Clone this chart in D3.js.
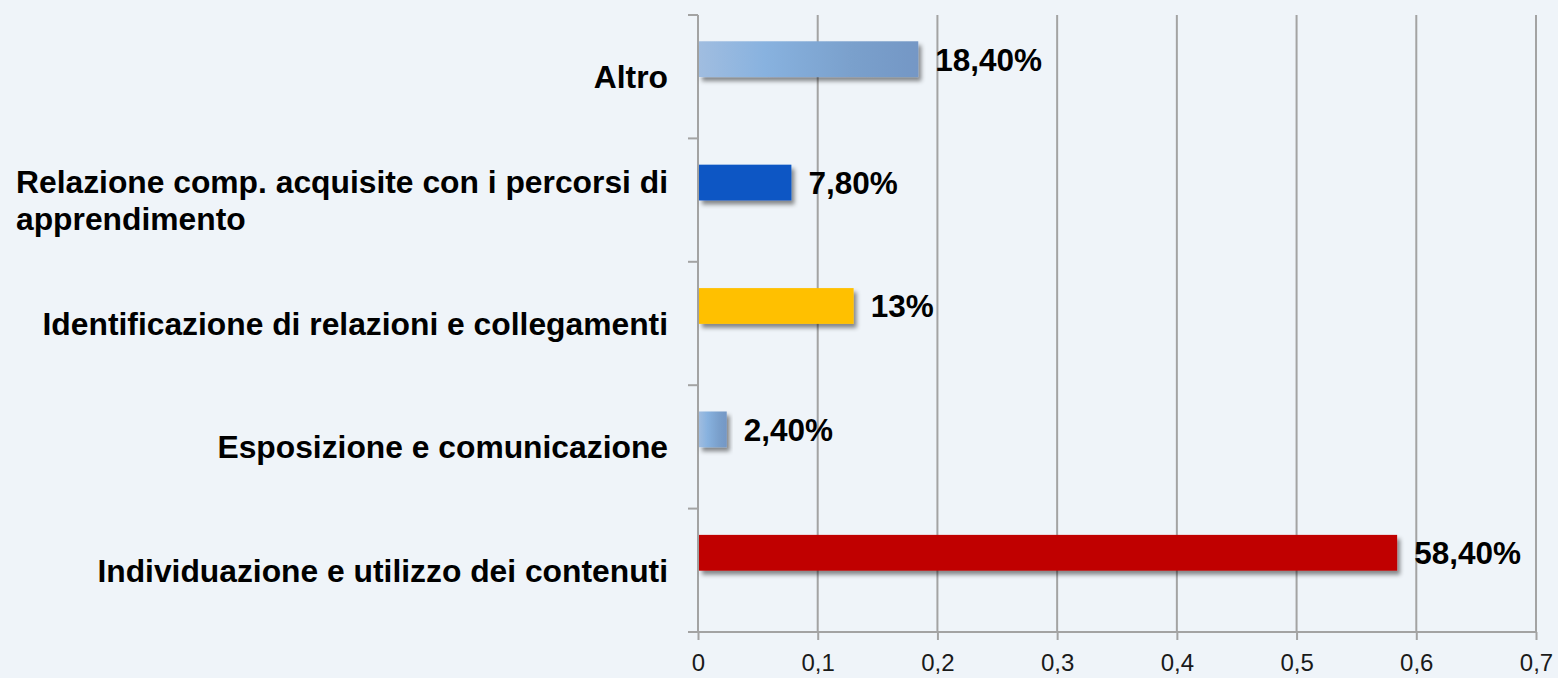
<!DOCTYPE html>
<html>
<head>
<meta charset="utf-8">
<script src="https://cdn.jsdelivr.net/npm/d3@7"></script>
<style>
  html, body { margin: 0; padding: 0; background: #eff4f9; }
  svg { display: block; }
</style>
</head>
<body>
<svg id="chart" width="1558" height="678"></svg>
<script>
// ---- data (top to bottom as drawn) ----
const categories = [
  "Altro",
  "Relazione comp. acquisite con i percorsi di apprendimento",
  "Identificazione di relazioni e collegamenti",
  "Esposizione e comunicazione",
  "Individuazione e utilizzo dei contenuti"
];
const values = [0.184, 0.078, 0.13, 0.024, 0.584];
const valueLabels = ["18,40%", "7,80%", "13%", "2,40%", "58,40%"];
const tickValues = [0, 0.1, 0.2, 0.3, 0.4, 0.5, 0.6, 0.7];
const tickLabels = ["0", "0,1", "0,2", "0,3", "0,4", "0,5", "0,6", "0,7"];
const barFills = ["url(#gradLight)", "#1157c4", "#ffc000", "url(#gradLight)", "#c00000"];

const W = 1558, H = 678;
const margin = { top: 15, right: 22, bottom: 46, left: 698 };
const svg = d3.select("#chart");

const defs = svg.append("defs");
const g1 = defs.append("linearGradient").attr("id", "gradLight")
  .attr("x1", "0%").attr("x2", "100%").attr("y1", "0%").attr("y2", "0%");
g1.append("stop").attr("offset", "0%").attr("stop-color", "#a0bde0");
g1.append("stop").attr("offset", "30%").attr("stop-color", "#88b2df");
g1.append("stop").attr("offset", "70%").attr("stop-color", "#7aa0cc");
g1.append("stop").attr("offset", "100%").attr("stop-color", "#7497c5");
const f = defs.append("filter").attr("id", "shadow")
  .attr("x", "-10%").attr("y", "-30%").attr("width", "130%").attr("height", "180%");
f.append("feDropShadow").attr("dx", 3).attr("dy", 4).attr("stdDeviation", 2.2)
  .attr("flood-color", "#000").attr("flood-opacity", 0.45);

const x = d3.scaleLinear().domain([0, 0.7]).range([margin.left, W - margin.right]);
const y = d3.scaleBand().domain(categories).range([margin.top, H - margin.bottom]).padding(0);
const bw = y.bandwidth();
const gridColor = "#a3a3a3";

// gridlines
svg.append("g").selectAll("line").data(tickValues.slice(1)).join("line")
  .attr("x1", d => x(d)).attr("x2", d => x(d))
  .attr("y1", margin.top).attr("y2", H - margin.bottom)
  .attr("stroke", gridColor).attr("stroke-width", 2);

// x axis
const xAxis = d3.axisBottom(x).tickValues(tickValues)
  .tickFormat((d, i) => tickLabels[i]).tickSize(8).tickSizeOuter(0).tickPadding(14);
const gx = svg.append("g").attr("transform", `translate(0,${H - margin.bottom})`).call(xAxis);
gx.select(".domain").remove();
gx.append("line").attr("x1", margin.left - 10).attr("x2", x(0.7))
  .attr("stroke", gridColor).attr("stroke-width", 2);
gx.selectAll(".tick line").attr("stroke", gridColor).attr("stroke-width", 2);
gx.selectAll(".tick text").attr("fill", "#1a1a1a")
  .style("font-family", "'Liberation Sans', Arial, sans-serif").style("font-size", "24px");

// y axis line + ticks at band boundaries
svg.append("line").attr("x1", margin.left).attr("x2", margin.left)
  .attr("y1", margin.top).attr("y2", H - margin.bottom)
  .attr("stroke", gridColor).attr("stroke-width", 2);
const bounds = categories.map(c => y(c)).concat([H - margin.bottom]);
svg.append("g").selectAll("line").data(bounds).join("line")
  .attr("x1", margin.left - 10).attr("x2", margin.left)
  .attr("y1", d => d).attr("y2", d => d)
  .attr("stroke", gridColor).attr("stroke-width", 2);

// bars
svg.append("g").selectAll("rect").data(categories).join("rect")
  .attr("x", x(0) + 1)
  .attr("y", d => y(d) + bw * 0.213)
  .attr("height", bw * 0.29)
  .attr("width", (d, i) => x(values[i]) - x(0) - 1)
  .attr("fill", (d, i) => barFills[i])
  .attr("filter", "url(#shadow)");

// value labels
svg.append("g").selectAll("text").data(categories).join("text")
  .attr("x", (d, i) => x(values[i]) + 17)
  .attr("y", d => y(d) + bw * 0.213 + bw * 0.145)
  .attr("dy", "0.36em")
  .text((d, i) => valueLabels[i])
  .attr("fill", "#000")
  .style("font-family", "'Liberation Sans', Arial, sans-serif")
  .style("font-weight", "bold").style("font-size", "31.5px");

// category labels (wrapped)
const labelRight = 668, maxW = 665, lineH = 37;
const lg = svg.append("g")
  .style("font-family", "'Liberation Sans', Arial, sans-serif")
  .style("font-weight", "bold").style("font-size", "31.8px");
categories.forEach(cat => {
  const t = lg.append("text").attr("fill", "#000");
  const words = cat.split(" ");
  const lines = [];
  let cur = [];
  words.forEach(w => {
    cur.push(w);
    t.text(cur.join(" "));
    if (t.node().getComputedTextLength() > maxW && cur.length > 1) {
      cur.pop();
      lines.push(cur.join(" "));
      cur = [w];
    }
  });
  lines.push(cur.join(" "));
  t.text(null);
  const cy = y(cat) + bw / 2;
  if (lines.length === 1) {
    t.attr("text-anchor", "end").attr("x", labelRight).attr("y", cy).attr("dy", "0.36em").text(lines[0]);
  } else {
    t.text(lines[0]);
    const w0 = t.node().getComputedTextLength();
    t.text(null);
    const x0 = labelRight - w0;
    const y0 = cy - (lines.length - 1) * lineH / 2;
    lines.forEach((ln, k) => {
      t.append("tspan").attr("x", x0).attr("y", y0 + k * lineH).attr("dy", "0.36em").text(ln);
    });
  }
});
</script>
</body>
</html>
